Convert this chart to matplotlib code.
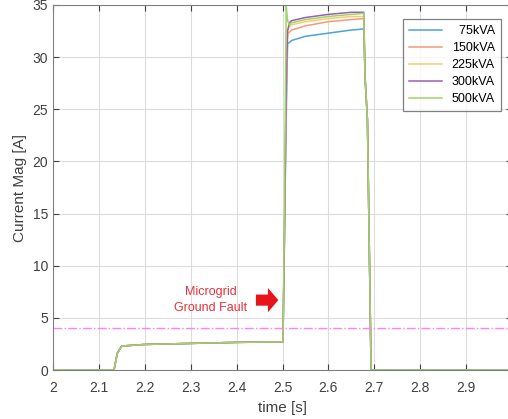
import numpy as np
import matplotlib
matplotlib.use("Agg")
import matplotlib.pyplot as plt

plt.rcParams['font.family'] = ['Liberation Sans', 'DejaVu Sans']

# time base shared by all series [s]
t = [2.0, 2.133, 2.140, 2.150, 2.2, 2.3, 2.4, 2.501, 2.504, 2.508, 2.511, 2.515,
     2.52, 2.55, 2.6, 2.65, 2.677, 2.680, 2.685, 2.693, 2.7, 3.0]

labels = ['  75kVA', '150kVA', '225kVA', '300kVA', '500kVA']
colors = ['#4aa3df', '#f39a78', '#f6cd6e', '#9a5fb0', '#9fd46a']

pre = [0, 0, 1.6, 2.3, 2.45, 2.55, 2.65, 2.7]
post = [28.0, 24.0, 0, 0, 0]

i75  = pre + [12, 24.0, 31.3, 31.4, 31.6, 32.0, 32.3, 32.6, 32.7] + post
i150 = pre + [12, 26.0, 32.2, 32.4, 32.6, 33.0, 33.4, 33.6, 33.7] + post
i225 = pre + [12, 26.5, 32.6, 32.9, 33.1, 33.4, 33.7, 33.9, 33.9] + post
i300 = pre + [12, 27.0, 32.5, 33.3, 33.5, 33.8, 34.1, 34.3, 34.3] + post
i500 = pre + [14, 35.0, 33.5, 33.1, 33.3, 33.6, 33.9, 34.1, 34.2] + post

series = [i75, i150, i225, i300, i500]

fig = plt.figure(figsize=(5.08, 4.19), dpi=100)
ax = fig.add_axes([53/508, 49/419, 459/508, 365/419])

for y, lab, c in zip(series, labels, colors):
    ax.plot(t, y, color=c, lw=1.1, label=lab)

# threshold line
ax.axhline(4, color='#ff80ff', lw=1.0, ls='-.')

ax.set_xlim(2, 3)
ax.set_ylim(0, 35)
ax.set_xticks(np.arange(2, 3.01, 0.1))
ax.set_xticklabels(['2', '2.1', '2.2', '2.3', '2.4', '2.5', '2.6', '2.7', '2.8', '2.9', '3'])
ax.set_yticks(range(0, 36, 5))
ax.grid(True, color='#dcdcdc', lw=0.8)
ax.tick_params(direction='in', top=True, right=True, colors='#404040',
               labelsize=10, length=4)
ax.tick_params(axis='x', pad=8)
for s in ax.spines.values():
    s.set_color('#808080')

ax.set_xlabel('time [s]', fontsize=11, color='#404040', labelpad=4)
ax.set_ylabel('Current Mag [A]', fontsize=11, color='#404040', labelpad=4)

ax.text(2.344, 6.7, 'Microgrid\nGround Fault', color='#e8303a', fontsize=9,
        ha='center', va='center', linespacing=1.4)
ax.annotate('', xy=(2.497, 6.7), xytext=(2.436, 6.7),
            arrowprops=dict(arrowstyle='simple,head_length=0.75,head_width=1.75,tail_width=0.8',
                            color='#e8141c', lw=0))

leg = ax.legend(loc='upper right', bbox_to_anchor=((501 - 53)/459, 1 - 14/365),
                bbox_transform=ax.transAxes, fontsize=9, frameon=True,
                fancybox=False, edgecolor='#606060', handlelength=2.6,
                labelspacing=0.4, borderpad=0.5, borderaxespad=0)
leg.get_frame().set_linewidth(0.9)

fig.savefig('out.png', dpi=100)
